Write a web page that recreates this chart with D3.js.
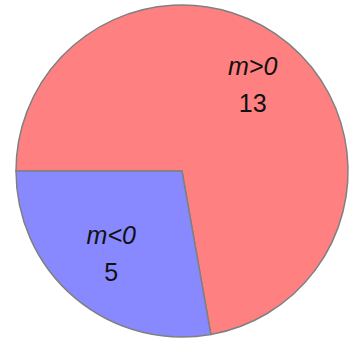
<!DOCTYPE html>
<html>
<head>
<meta charset="utf-8">
<script src="https://cdn.jsdelivr.net/npm/d3@7"></script>
<style>
  body { margin: 0; background: #fff; }
  text { font-family: "Liberation Sans", Arial, sans-serif; }
</style>
</head>
<body>
<div id="chart"></div>
<script>
// slice data
let labels = ["m>0", "m<0"];
let counts = [13, 5];
let colors = ["#ff8080", "#8888ff"];

let w = 356, h = 347;
let cx = 182, cy = 171, radius = 166;

let svg = d3.select("#chart")
    .append("svg")
    .attr("width", w)
    .attr("height", h);

let g = svg.append("g")
    .attr("transform", `translate(${cx}, ${cy})`);

//pie layout, first slice starts at 9 o'clock
let pie = d3.pie()
    .sort(null)
    .startAngle(-Math.PI / 2)
    .endAngle(1.5 * Math.PI)
    .value(d => d);

let arc = d3.arc().innerRadius(0).outerRadius(radius);
let labelArc = d3.arc().innerRadius(110).outerRadius(110);

let slices = pie(counts);

g.selectAll("path")
    .data(slices)
    .enter()
    .append("path")
    .attr("d", arc)
    .attr("fill", (d, i) => colors[i])
    .attr("stroke", "#808080")
    .attr("stroke-width", 1.5);

let lab = g.selectAll("g.lab")
    .data(slices)
    .enter()
    .append("g")
    .attr("class", "lab")
    .attr("transform", d => `translate(${labelArc.centroid(d)})`);

lab.append("text")
    .attr("y", -11.5)
    .attr("text-anchor", "middle")
    .attr("font-size", "25px")
    .attr("font-style", "italic")
    .attr("fill", "#111")
    .text((d, i) => labels[i]);

lab.append("text")
    .attr("y", 25.5)
    .attr("text-anchor", "middle")
    .attr("font-size", "25px")
    .attr("fill", "#111")
    .text(d => d.data);
</script>
</body>
</html>
